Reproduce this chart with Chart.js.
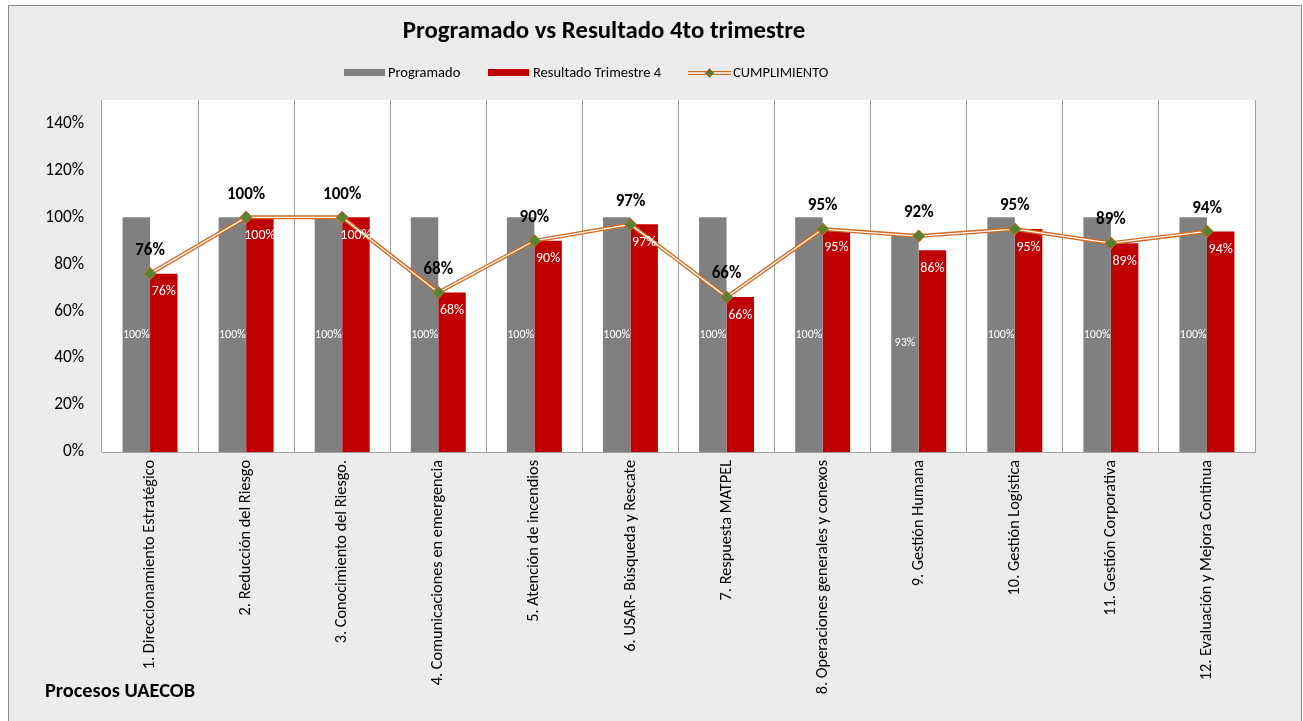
<!DOCTYPE html>
<html>
<head>
<meta charset="utf-8">
<script src="https://cdn.jsdelivr.net/npm/chart.js@4/dist/chart.umd.min.js"></script>
<style>
	html, body { margin: 0; padding: 0; background: #fff; }
	#box { position: absolute; left: 8px; top: 5px; width: 1292px; height: 716px; border: 1px solid #8c8c8c; border-bottom: none; background: #ececec; }
	canvas { display: block; }
</style>
</head>
<body>
<div id="box"><canvas id="chart" width="1292" height="716"></canvas></div>
<script>
const FONT = "Carlito, Lato, 'Open Sans', sans-serif";

const categories = [
	'1. Direccionamiento Estratégico',
	'2. Reducción del Riesgo',
	'3. Conocimiento del Riesgo.',
	'4. Comunicaciones en emergencia',
	'5. Atención de incendios',
	'6. USAR- Búsqueda y Rescate',
	'7. Respuesta MATPEL',
	'8. Operaciones generales y conexos',
	'9. Gestión Humana',
	'10. Gestión Logística',
	'11. Gestión Corporativa',
	'12. Evaluación y Mejora Continua'
];
const programado = [1, 1, 1, 1, 1, 1, 1, 1, 0.93, 1, 1, 1];
const resultado = [0.76, 1, 1, 0.68, 0.90, 0.97, 0.66, 0.95, 0.86, 0.95, 0.89, 0.94];
const cumplimiento = [0.76, 1, 1, 0.68, 0.90, 0.97, 0.66, 0.95, 0.92, 0.95, 0.89, 0.94];
const yTicks = [0, 0.2, 0.4, 0.6, 0.8, 1, 1.2, 1.4];

const GREY = '#808080', RED = '#C00000', ORANGE = '#D2691E', GREEN = '#548235';
const pct = v => Math.round(v * 100) + '%';

// plot area background + double line + labels + title/legend
const decor = {
	id: 'decor',
	beforeDraw(chart){
		const {ctx, chartArea: a} = chart;
		ctx.save();
		ctx.fillStyle = '#fff';
		ctx.fillRect(a.left, a.top, a.right - a.left, a.bottom - a.top);
		ctx.restore();
	},
	afterDatasetsDraw(chart){
		const ctx = chart.ctx;
		const lineMeta = chart.getDatasetMeta(2);
		// white centre of the double line, then points again on top
		ctx.save();
		ctx.strokeStyle = '#fff';
		ctx.lineWidth = 1.3;
		ctx.beginPath();
		lineMeta.data.forEach((p, i) => i ? ctx.lineTo(p.x, p.y) : ctx.moveTo(p.x, p.y));
		ctx.stroke();
		ctx.restore();
		lineMeta.data.forEach(p => p.draw(ctx, chart.chartArea));

		ctx.save();
		ctx.textAlign = 'center';
		ctx.textBaseline = 'middle';
		chart.getDatasetMeta(0).data.forEach((b, i) => {
			ctx.fillStyle = '#fff';
			ctx.font = '12px ' + FONT;
			ctx.fillText(pct(programado[i]), b.x, (b.y + b.base) / 2);
		});
		chart.getDatasetMeta(1).data.forEach((b, i) => {
			ctx.fillStyle = '#fff';
			ctx.font = '14px ' + FONT;
			ctx.fillText(pct(resultado[i]), b.x, b.y + 18);
		});
		lineMeta.data.forEach((p, i) => {
			ctx.fillStyle = '#000';
			ctx.font = 'bold 17px ' + FONT;
			ctx.fillText(pct(cumplimiento[i]), p.x, p.y - 23);
		});
		ctx.restore();
	},
	afterDraw(chart){
		const ctx = chart.ctx;
		ctx.save();
		ctx.fillStyle = '#000';
		ctx.textBaseline = 'middle';
		ctx.textAlign = 'center';
		ctx.font = 'bold 24.8px ' + FONT;
		ctx.fillText('Programado vs Resultado 4to trimestre', 595, 26);

		ctx.textAlign = 'left';
		ctx.font = 'bold 20.4px ' + FONT;
		ctx.fillText('Procesos UAECOB', 36, 686);

		// legend
		ctx.font = '14.5px ' + FONT;
		const ly = 67;
		let x = 335;
		const ds = chart.data.datasets;
		ctx.fillStyle = GREY; ctx.fillRect(x, ly - 4, 41, 7);
		ctx.fillStyle = '#000'; ctx.fillText(ds[0].label, x + 44, ly);
		x = 479;
		ctx.fillStyle = RED; ctx.fillRect(x, ly - 4, 41, 7);
		ctx.fillStyle = '#000'; ctx.fillText(ds[1].label, x + 45, ly);
		x = 679;
		ctx.strokeStyle = ORANGE; ctx.lineWidth = 4;
		ctx.beginPath(); ctx.moveTo(x, ly); ctx.lineTo(x + 43, ly); ctx.stroke();
		ctx.strokeStyle = '#fff'; ctx.lineWidth = 1.3;
		ctx.beginPath(); ctx.moveTo(x, ly); ctx.lineTo(x + 43, ly); ctx.stroke();
		ctx.fillStyle = GREEN; ctx.strokeStyle = ORANGE; ctx.lineWidth = 1;
		ctx.beginPath();
		ctx.moveTo(x + 21.5, ly - 4.5); ctx.lineTo(x + 26, ly); ctx.lineTo(x + 21.5, ly + 4.5); ctx.lineTo(x + 17, ly);
		ctx.closePath(); ctx.fill(); ctx.stroke();
		ctx.fillStyle = '#000'; ctx.fillText(ds[2].label, x + 45, ly);
		ctx.restore();
	}
};

new Chart(document.getElementById('chart'), {
	type: 'bar',
	data: {
		labels: categories,
		datasets: [
			{ label: 'Programado', data: programado, backgroundColor: GREY, order: 2,
				categoryPercentage: 0.572, barPercentage: 1 },
			{ label: 'Resultado Trimestre 4', data: resultado, backgroundColor: RED, order: 3,
				categoryPercentage: 0.572, barPercentage: 1 },
			{ label: 'CUMPLIMIENTO', type: 'line', data: cumplimiento, order: 1,
				borderColor: ORANGE, borderWidth: 4, tension: 0,
				pointStyle: 'rectRot', pointRadius: 6, pointBackgroundColor: GREEN,
				pointBorderColor: ORANGE, pointBorderWidth: 1 }
		]
	},
	plugins: [decor],
	options: {
		responsive: false,
		animation: false,
		devicePixelRatio: 1,
		layout: { padding: { top: 94, right: 46, left: 0, bottom: 0 } },
		plugins: { legend: { display: false }, title: { display: false }, tooltip: { enabled: false } },
		scales: {
			x: {
				grid: { display: true, offset: true, color: '#a0a0a0', drawTicks: false },
				border: { display: true, color: '#a0a0a0' },
				ticks: { maxRotation: 90, minRotation: 90, padding: 8, color: '#000',
					font: { family: FONT, size: 16.3 } },
				afterFit(s){ s.height = 270; }
			},
			y: {
				min: 0, max: 1.5, bounds: 'data',
				grid: { display: false },
				border: { display: false },
				afterBuildTicks(s){ s.ticks = yTicks.map(v => ({ value: v })); },
				ticks: { color: '#000', padding: 10, font: { family: FONT, size: 17.3 },
					callback: v => pct(v) },
				afterFit(s){ s.width = 93; }
			}
		}
	}
});
</script>
</body>
</html>
